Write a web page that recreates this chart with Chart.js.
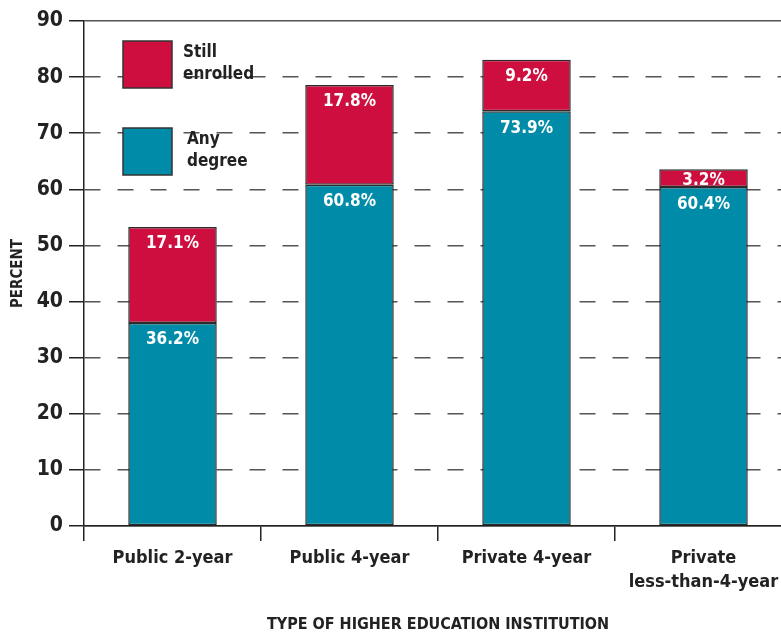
<!DOCTYPE html>
<html lang="en">
<head>
  <meta charset="UTF-8">
  <title>Completion by Institution Type</title>
  <script src="https://cdn.jsdelivr.net/npm/chart.js"></script>
  <style>
    html, body {
      margin: 0;
      padding: 0;
      background: #fff;
      overflow: hidden;
    }
    #wrap {
      position: relative;
      width: 800px;
      height: 634px;
    }
  </style>
</head>
<body>
  <div id="wrap"><canvas id="chart"></canvas></div>

  <script>
    const categories = [
      "Public 2-year",
      "Public 4-year",
      "Private 4-year",
      ["Private", "less-than-4-year"]
    ];
    const anyDegree = [36.2, 60.8, 73.9, 60.4];
    const stillEnrolled = [17.1, 17.8, 9.2, 3.2];
    const yTicks = [0, 10, 20, 30, 40, 50, 60, 70, 80, 90];

    const FONT = "'Liberation Sans Narrow', 'DejaVu Sans Condensed', 'Liberation Sans', sans-serif";
    const INK = "#222";

    // value labels near the top of each segment (centred in short ones)
    const segmentLabels = {
      id: "segmentLabels",
      afterDatasetsDraw(chart) {
        const ctx = chart.ctx;
        ctx.save();
        ctx.fillStyle = "#fff";
        ctx.font = "bold 17px " + FONT;
        ctx.textAlign = "center";
        ctx.textBaseline = "middle";
        chart.data.datasets.forEach((ds, i) => {
          chart.getDatasetMeta(i).data.forEach((bar, j) => {
            const h = bar.base - bar.y;
            const dy = Math.min(17, h / 2 + 2);
            ctx.fillText(ds.data[j].toFixed(1) + "%", bar.x, bar.y + dy);
          });
        });
        ctx.restore();
      }
    };

    // two-line legend boxes inside the plot
    const boxLegend = {
      id: "boxLegend",
      afterDraw(chart) {
        const ctx = chart.ctx;
        const items = [
          { ds: chart.data.datasets[1], top: 41, lines: ["Still", "enrolled"], tx: 183 },
          { ds: chart.data.datasets[0], top: 128, lines: ["Any", "degree"], tx: 187 }
        ];
        ctx.save();
        items.forEach(it => {
          ctx.fillStyle = it.ds.backgroundColor;
          ctx.strokeStyle = "#333";
          ctx.lineWidth = 1.5;
          ctx.fillRect(123, it.top, 49, 47);
          ctx.strokeRect(123, it.top, 49, 47);
          ctx.fillStyle = INK;
          ctx.font = "bold 17px " + FONT;
          ctx.textAlign = "left";
          ctx.textBaseline = "middle";
          ctx.fillText(it.lines[0], it.tx, it.top + 12);
          ctx.fillText(it.lines[1], it.tx, it.top + 34);
        });
        ctx.restore();
      }
    };

    new Chart(document.getElementById("chart"), {
      type: "bar",
      data: {
        labels: categories,
        datasets: [
          {
            label: "Any degree",
            data: anyDegree,
            backgroundColor: "#008CA8",
            borderColor: "#2b2b2b",
            borderWidth: 1.5,
            borderSkipped: false,
            categoryPercentage: 1,
            barPercentage: 0.5
          },
          {
            label: "Still enrolled",
            data: stillEnrolled,
            backgroundColor: "#CE0E3E",
            borderColor: "#2b2b2b",
            borderWidth: 1.5,
            borderSkipped: false,
            categoryPercentage: 1,
            barPercentage: 0.5
          }
        ]
      },
      options: {
        responsive: true,
        maintainAspectRatio: false,
        animation: false,
        layout: { padding: { top: 21, right: 8, left: 0, bottom: 0 } },
        plugins: {
          legend: { display: false },
          tooltip: { enabled: false }
        },
        scales: {
          x: {
            stacked: true,
            afterFit(scale) { scale.height = 108; },
            grid: {
              drawOnChartArea: false,
              drawTicks: true,
              tickLength: 15,
              color: INK,
              lineWidth: 1.5
            },
            border: { display: true, color: INK, width: 1.5 },
            ticks: {
              color: INK,
              font: { family: FONT, size: 18, weight: "bold", lineHeight: 1.3 },
              padding: 6,
              maxRotation: 0,
              autoSkip: false
            },
            title: {
              display: true,
              text: "TYPE OF HIGHER EDUCATION INSTITUTION",
              color: INK,
              font: { family: FONT, size: 16, weight: "bold" },
              padding: { top: 0, bottom: 0 }
            }
          },
          y: {
            stacked: true,
            min: 0,
            max: 90,
            afterFit(scale) { scale.width = 84; },
            afterBuildTicks(scale) {
              scale.ticks = yTicks.map(v => ({ value: v }));
            },
            grid: {
              color: "#555",
              lineWidth: 1.5,
              tickLength: 15,
              tickColor: INK
            },
            border: {
              display: true,
              color: INK,
              width: 1.5,
              dash: ctx => (ctx.tick && (ctx.tick.value === 0 || ctx.tick.value === 90)) ? [] : [16, 17]
            },
            ticks: {
              color: INK,
              font: { family: FONT, size: 21, weight: "bold" },
              padding: 6
            },
            title: {
              display: true,
              text: "PERCENT",
              color: INK,
              font: { family: FONT, size: 15, weight: "bold" },
              padding: { top: 9, bottom: 0 }
            }
          }
        }
      },
      plugins: [segmentLabels, boxLegend]
    });
  </script>
</body>
</html>
